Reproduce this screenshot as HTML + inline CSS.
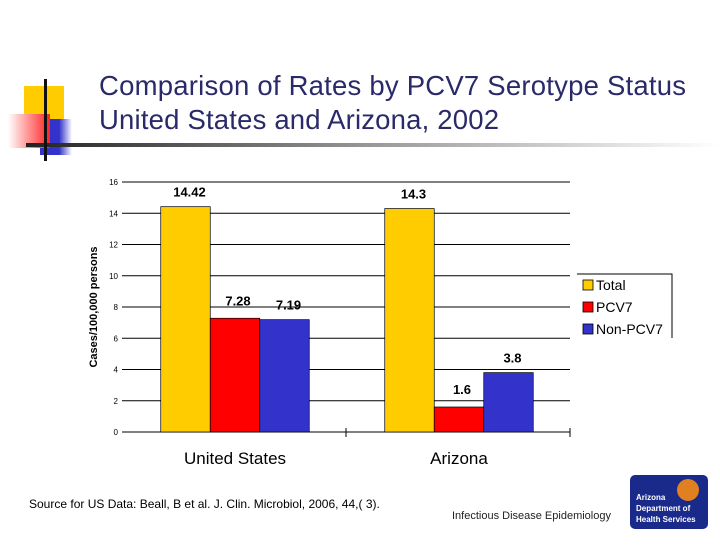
<!DOCTYPE html>
<html><head><meta charset="utf-8"><style>
body{margin:0;background:#fff;width:720px;height:540px;overflow:hidden;font-family:"Liberation Sans",sans-serif}
</style></head><body>
<svg width="720" height="540" xmlns="http://www.w3.org/2000/svg">
<defs>
<linearGradient id="gl" x1="0" x2="1"><stop offset="0" stop-color="#222"/><stop offset="0.5" stop-color="#999"/><stop offset="1" stop-color="#fff"/></linearGradient>
<linearGradient id="rd" x1="1" x2="0"><stop offset="0" stop-color="#f22"/><stop offset="1" stop-color="#fff"/></linearGradient>
<linearGradient id="bl" x1="0" x2="1"><stop offset="0" stop-color="#33c"/><stop offset="0.6" stop-color="#33c"/><stop offset="1" stop-color="#fff"/></linearGradient>
</defs>
<g>
<rect x="24" y="86" width="40" height="40" fill="#fc0"/>
<rect x="40" y="119" width="32" height="36" fill="url(#bl)"/>
<rect x="8" y="114" width="42" height="34" fill="url(#rd)"/>
<rect x="26" y="143" width="694" height="4" fill="url(#gl)"/>
<rect x="44" y="79" width="3" height="82" fill="#111"/>
</g>
<text x="99" y="95" font-size="27.5" fill="#2a2a6a" textLength="587">Comparison of Rates by PCV7 Serotype Status</text>
<text x="99" y="129" font-size="27.5" fill="#2a2a6a" textLength="400">United States and Arizona, 2002</text>
<g id="chart"></g>
<text x="29" y="508" font-size="12" fill="#000">Source for US Data: Beall, B et al. J. Clin. Microbiol, 2006, 44,( 3).</text>
<text x="452" y="519" font-size="11" fill="#222">Infectious Disease Epidemiology</text>
<g>
<rect x="630" y="475" width="78" height="54" rx="5" fill="#1a2a8a"/>
<circle cx="688" cy="490" r="11" fill="#e08020"/>
<text x="636" y="500" font-size="8" font-weight="bold" fill="#fff">Arizona</text>
<text x="636" y="511" font-size="8" font-weight="bold" fill="#fff">Department of</text>
<text x="636" y="522" font-size="8" font-weight="bold" fill="#fff">Health Services</text>
</g>
</svg>
<script>
const categories=["United States","Arizona"];
const seriesNames=["Total","PCV7","Non-PCV7"];
const total=[14.42,14.3];
const pcv7=[7.28,1.6];
const nonPcv7=[7.19,3.8];
const ticks=[0,2,4,6,8,10,12,14,16];
const colors=["#ffcc00","#ff0000","#3333cc"];
const NS="http://www.w3.org/2000/svg";
const g=document.getElementById('chart');
const L=122,R=570,T=182,B=432,ymax=16;
const y=v=>B-(v/ymax)*(B-T);
const cw=(R-L)/categories.length;
const bw=49.5;
function mk(tag,a,txt){const e=document.createElementNS(NS,tag);for(const k in a)e.setAttribute(k,a[k]);if(txt!==undefined)e.textContent=txt;g.appendChild(e);return e;}
ticks.forEach(t=>{
 const l=mk('line',{x1:L,x2:R,y1:y(t),y2:y(t),stroke:'#000','stroke-width':1});
 
 
 const tx=mk('text',{x:L-4,y:y(t)+3,'font-size':8,'text-anchor':'end'},t);
 
 
});
[L+cw,R].forEach(x=>{const l=mk('line',{x1:x,x2:x,y1:B-4,y2:B+5,stroke:'#000'});
 
 });
const yt=mk('text',{x:97,y:307,'font-size':11,'font-weight':'bold','text-anchor':'middle',transform:'rotate(-90 97 307)'},'Cases/100,000 persons');


const series=[total,pcv7,nonPcv7];
const labOff=[[4,10],[3,13],[4,10]];
categories.forEach((c,i)=>{
 const cx=L+cw*i+cw/2+1;
 const x0=cx-bw*1.5;
 series.forEach((s,j)=>{
  const r=mk('rect',{x:x0+j*bw,y:y(s[i]),width:bw,height:B-y(s[i]),fill:colors[j],stroke:'#000','stroke-width':0.7});
  
  
  const t=mk('text',{x:x0+j*bw+bw/2+labOff[j][0],y:y(s[i])-labOff[j][1],'font-size':13,'font-weight':'bold','text-anchor':'middle'},String(s[i]));
  
  
 });
 const ct=mk('text',{x:cx,y:464,'font-size':17,'text-anchor':'middle'},c);
 
 
});
const lb=mk('path',{d:'M577 274 H672 V338',fill:'none',stroke:'#000'});


seriesNames.forEach((n,j)=>{
 const yy=286+j*22;
 const r=mk('rect',{x:583,y:yy-6,width:10,height:10,fill:colors[j],stroke:'#000','stroke-width':0.8});
 
 
 const t=mk('text',{x:596,y:yy+4,'font-size':14},n);
 
 
});
</script>
</body></html>
